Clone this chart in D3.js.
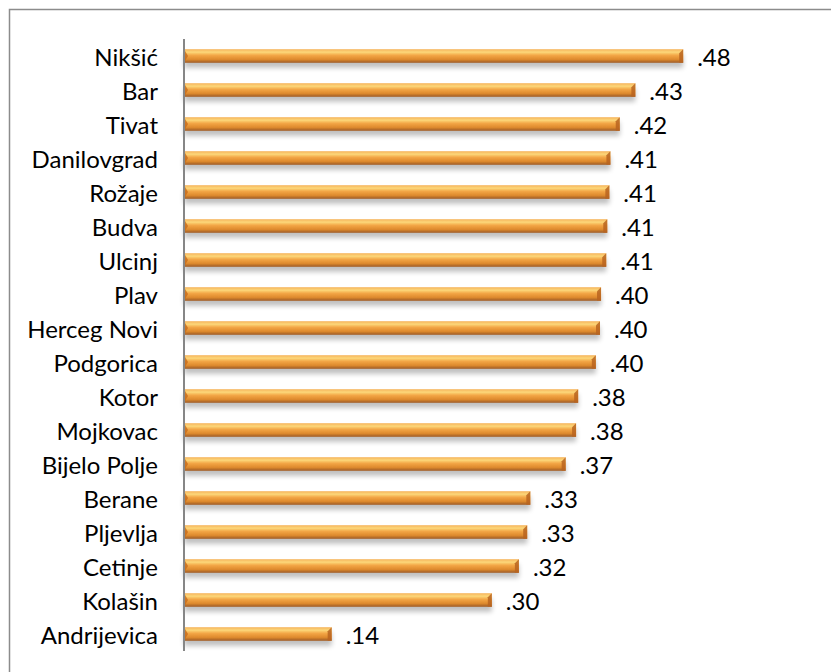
<!DOCTYPE html>
<html>
<head>
<meta charset="utf-8">
<script src="https://cdn.jsdelivr.net/npm/d3@7"></script>
<style>
  body { margin: 0; background: #fff; }
  text { font-family: Lato, "Open Sans", sans-serif; fill: #000; }
</style>
</head>
<body>
<svg id="chart"></svg>
<script>
const WIDTH = 831;
const HEIGHT = 672;

var cities = ["Nikšić", "Bar", "Tivat", "Danilovgrad", "Rožaje", "Budva", "Ulcinj", "Plav",
    "Herceg Novi", "Podgorica", "Kotor", "Mojkovac", "Bijelo Polje", "Berane", "Pljevlja",
    "Cetinje", "Kolašin", "Andrijevica"];
var values = [0.480, 0.434, 0.419, 0.410, 0.409, 0.407, 0.406, 0.401,
    0.400, 0.396, 0.379, 0.377, 0.367, 0.333, 0.330, 0.322, 0.296, 0.142];
var labels = [".48", ".43", ".42", ".41", ".41", ".41", ".41", ".40",
    ".40", ".40", ".38", ".38", ".37", ".33", ".33", ".32", ".30", ".14"];

var data = cities.map(function (c, i) { return { city: c, value: values[i], label: labels[i] }; });

var svg = d3.select("#chart")
    .attr("width", WIDTH)
    .attr("height", HEIGHT);

var defs = svg.append("defs");

var grad = defs.append("linearGradient")
    .attr("id", "barGrad")
    .attr("x1", 0).attr("y1", 0)
    .attr("x2", 0).attr("y2", 1);
grad.append("stop").attr("offset", "0%").attr("stop-color", "#f6b35a");
grad.append("stop").attr("offset", "22%").attr("stop-color", "#fcd77a");
grad.append("stop").attr("offset", "45%").attr("stop-color", "#f3a645");
grad.append("stop").attr("offset", "75%").attr("stop-color", "#de8a2e");
grad.append("stop").attr("offset", "100%").attr("stop-color", "#9c5a26");

var shadow = defs.append("filter")
    .attr("id", "shadow")
    .attr("x", "-5%").attr("y", "-50%")
    .attr("width", "110%").attr("height", "250%");
shadow.append("feGaussianBlur").attr("in", "SourceAlpha").attr("stdDeviation", 2.5);
shadow.append("feOffset").attr("dx", 0).attr("dy", 5).attr("result", "blur");
shadow.append("feComponentTransfer").append("feFuncA").attr("type", "linear").attr("slope", 0.25);
var merge = shadow.append("feMerge");
merge.append("feMergeNode");
merge.append("feMergeNode").attr("in", "SourceGraphic");

// outer border (runs off right and bottom)
svg.append("rect")
    .attr("x", 9.5).attr("y", 9.5)
    .attr("width", WIDTH).attr("height", HEIGHT)
    .attr("fill", "none")
    .attr("stroke", "#8c8c8c")
    .attr("stroke-width", 1.5);

var margin = { left: 184, top: 39, bottom: 651 };

var x = d3.scaleLinear()
    .domain([0, 0.5])
    .range([margin.left, margin.left + 520]);

var y = d3.scaleBand()
    .domain(cities)
    .range([margin.top, margin.bottom])
    .paddingInner(0.6)
    .paddingOuter(0.3);

var bars = svg.append("g").selectAll("g")
    .data(data)
    .enter().append("g");

bars.append("rect")
    .attr("x", x(0))
    .attr("y", function (d) { return y(d.city); })
    .attr("width", function (d) { return x(d.value) - x(0); })
    .attr("height", y.bandwidth())
    .attr("fill", "url(#barGrad)")
    .attr("filter", "url(#shadow)");

// bevelled ends
bars.append("path")
    .attr("d", function (d) {
        var y0 = y(d.city), h = y.bandwidth(), x0 = x(0);
        return "M" + x0 + "," + y0 + " L" + (x0 + 4) + "," + (y0 + h / 2) + " L" + x0 + "," + (y0 + h) + "Z";
    })
    .attr("fill", "#c46a1c")
    .attr("opacity", 0.8);

bars.append("path")
    .attr("d", function (d) {
        var y0 = y(d.city), h = y.bandwidth(), x1 = x(d.value);
        return "M" + x1 + "," + y0 + " L" + (x1 - 4) + "," + (y0 + 4) + " L" + (x1 - 4) + "," + (y0 + h) + " L" + x1 + "," + (y0 + h) + "Z";
    })
    .attr("fill", "#b86420")
    .attr("opacity", 0.85);

bars.append("text")
    .attr("x", function (d) { return x(d.value) + 14; })
    .attr("y", function (d) { return y(d.city) + y.bandwidth() / 2; })
    .attr("dy", "0.4em")
    .style("font-size", "24px")
    .text(function (d) { return d.label; });

// category axis
var yAxis = d3.axisLeft(y).tickSize(0).tickPadding(26);
var gAxis = svg.append("g")
    .attr("transform", "translate(" + margin.left + ",0)")
    .call(yAxis);
gAxis.select(".domain")
    .attr("d", "M0," + margin.top + "V" + margin.bottom)
    .attr("stroke", "#868686")
    .attr("stroke-width", 2);
gAxis.selectAll("text")
    .attr("dy", "0.4em")
    .style("font-size", "24px")
    .style("font-family", "Lato, 'Open Sans', sans-serif");
</script>
</body>
</html>
